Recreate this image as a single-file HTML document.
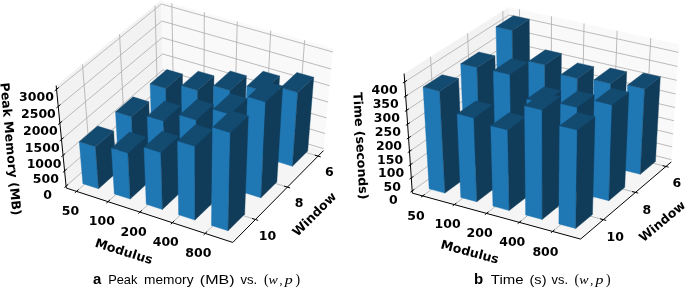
<!DOCTYPE html>
<html><head><meta charset="utf-8"><title>figure</title>
<style>
html,body{margin:0;padding:0;background:#fff;}
body{width:685px;height:289px;overflow:hidden;}
svg{display:block;}
svg text{font-family:"DejaVu Sans","Liberation Sans",sans-serif;fill:#000;}
svg .cap{font-family:"Liberation Sans","DejaVu Sans",sans-serif;font-weight:normal;font-style:normal;}
svg .capb{font-family:"Liberation Sans","DejaVu Sans",sans-serif;font-weight:bold;}
svg .math{font-family:"Liberation Serif","DejaVu Serif",serif;font-style:italic;font-weight:normal;}
svg .mathr{font-family:"Liberation Serif","DejaVu Serif",serif;font-weight:normal;}
</style></head><body>
<svg width="685" height="289" viewBox="0 0 685 289">
<rect width="685" height="289" fill="#fff"/>
<polygon points="66.28,188.04 163.70,102.51 161.31,0.30 56.17,85.59" fill="#f2f2f2" stroke="#f9f9f9" stroke-width="0.5"/>
<polygon points="163.70,102.51 323.50,150.62 333.07,48.18 161.31,0.30" fill="#f9f9f9" stroke="#fcfcfc" stroke-width="0.5"/>
<polygon points="66.28,188.04 232.77,242.45 323.50,150.62 163.70,102.51" fill="#f5f5f5" stroke="#fafafa" stroke-width="0.5"/>
<polyline points="318.06,156.13 157.84,107.66 155.02,5.40" fill="none" stroke="#b0b0b0" stroke-width="0.85"/>
<polyline points="287.42,187.13 124.91,136.56 119.56,34.16" fill="none" stroke="#b0b0b0" stroke-width="0.85"/>
<polyline points="255.43,219.52 90.57,166.71 82.47,64.25" fill="none" stroke="#b0b0b0" stroke-width="0.85"/>
<polyline points="76.51,191.38 173.54,105.48 171.87,3.24" fill="none" stroke="#b0b0b0" stroke-width="0.85"/>
<polyline points="108.00,201.67 203.82,114.59 204.35,12.29" fill="none" stroke="#b0b0b0" stroke-width="0.85"/>
<polyline points="139.94,212.11 234.49,123.83 237.29,21.48" fill="none" stroke="#b0b0b0" stroke-width="0.85"/>
<polyline points="172.34,222.70 265.58,133.18 270.71,30.79" fill="none" stroke="#b0b0b0" stroke-width="0.85"/>
<polyline points="205.20,233.44 297.08,142.67 304.62,40.25" fill="none" stroke="#b0b0b0" stroke-width="0.85"/>
<polyline points="66.09,186.13 163.65,100.61 323.68,148.71" fill="none" stroke="#b0b0b0" stroke-width="0.85"/>
<polyline points="64.59,170.93 163.30,85.38 325.10,133.49" fill="none" stroke="#b0b0b0" stroke-width="0.85"/>
<polyline points="63.05,155.37 162.93,69.82 326.56,117.92" fill="none" stroke="#b0b0b0" stroke-width="0.85"/>
<polyline points="61.48,139.45 162.56,53.92 328.05,101.99" fill="none" stroke="#b0b0b0" stroke-width="0.85"/>
<polyline points="59.88,123.15 162.18,37.66 329.57,85.69" fill="none" stroke="#b0b0b0" stroke-width="0.85"/>
<polyline points="58.23,106.45 161.80,21.04 331.13,69.01" fill="none" stroke="#b0b0b0" stroke-width="0.85"/>
<polyline points="56.54,89.35 161.40,4.04 332.72,51.94" fill="none" stroke="#b0b0b0" stroke-width="0.85"/>
<polygon points="151.42,123.10 166.67,127.77 165.82,88.52 150.14,83.85" fill="#1f77b4" stroke="#1f77b4" stroke-width="0.4" stroke-linejoin="round"/>
<polygon points="166.67,127.77 182.82,113.31 182.43,74.07 165.82,88.52" fill="#103c5a" stroke="#103c5a" stroke-width="0.4" stroke-linejoin="round"/>
<polygon points="166.86,69.50 150.14,83.85 165.82,88.52 182.43,74.07" fill="#134a70" stroke="#134a70" stroke-width="0.4" stroke-linejoin="round"/>
<polygon points="182.02,132.48 197.47,137.21 197.50,90.44 181.52,85.71" fill="#1f77b4" stroke="#1f77b4" stroke-width="0.4" stroke-linejoin="round"/>
<polygon points="197.47,137.21 213.41,122.55 213.97,75.80 197.50,90.44" fill="#103c5a" stroke="#103c5a" stroke-width="0.4" stroke-linejoin="round"/>
<polygon points="198.11,71.16 181.52,85.71 197.50,90.44 213.97,75.80" fill="#134a70" stroke="#134a70" stroke-width="0.4" stroke-linejoin="round"/>
<polygon points="213.03,141.98 228.69,146.78 230.02,90.53 213.71,85.73" fill="#1f77b4" stroke="#1f77b4" stroke-width="0.4" stroke-linejoin="round"/>
<polygon points="228.69,146.78 244.41,131.92 246.36,75.68 230.02,90.53" fill="#103c5a" stroke="#103c5a" stroke-width="0.4" stroke-linejoin="round"/>
<polygon points="230.17,70.98 213.71,85.73 230.02,90.53 246.36,75.68" fill="#134a70" stroke="#134a70" stroke-width="0.4" stroke-linejoin="round"/>
<polygon points="244.47,151.61 260.34,156.47 263.43,91.02 246.78,86.15" fill="#1f77b4" stroke="#1f77b4" stroke-width="0.4" stroke-linejoin="round"/>
<polygon points="260.34,156.47 275.83,141.41 279.62,75.96 263.43,91.02" fill="#103c5a" stroke="#103c5a" stroke-width="0.4" stroke-linejoin="round"/>
<polygon points="263.09,71.20 246.78,86.15 263.43,91.02 279.62,75.96" fill="#134a70" stroke="#134a70" stroke-width="0.4" stroke-linejoin="round"/>
<polygon points="276.33,161.37 292.43,166.31 297.70,92.54 280.70,87.60" fill="#1f77b4" stroke="#1f77b4" stroke-width="0.4" stroke-linejoin="round"/>
<polygon points="292.43,166.31 307.68,151.04 313.72,77.27 297.70,92.54" fill="#103c5a" stroke="#103c5a" stroke-width="0.4" stroke-linejoin="round"/>
<polygon points="296.85,72.45 280.70,87.60 297.70,92.54 313.72,77.27" fill="#134a70" stroke="#134a70" stroke-width="0.4" stroke-linejoin="round"/>
<polygon points="117.88,152.75 133.34,157.62 131.43,116.73 115.51,111.85" fill="#1f77b4" stroke="#1f77b4" stroke-width="0.4" stroke-linejoin="round"/>
<polygon points="133.34,157.62 150.18,142.54 148.79,101.64 131.43,116.73" fill="#103c5a" stroke="#103c5a" stroke-width="0.4" stroke-linejoin="round"/>
<polygon points="132.99,96.87 115.51,111.85 131.43,116.73 148.79,101.64" fill="#134a70" stroke="#134a70" stroke-width="0.4" stroke-linejoin="round"/>
<polygon points="148.91,162.53 164.58,167.47 163.47,121.11 147.26,116.17" fill="#1f77b4" stroke="#1f77b4" stroke-width="0.4" stroke-linejoin="round"/>
<polygon points="164.58,167.47 181.20,152.18 180.67,105.81 163.47,121.11" fill="#103c5a" stroke="#103c5a" stroke-width="0.4" stroke-linejoin="round"/>
<polygon points="164.58,100.97 147.26,116.17 163.47,121.11 180.67,105.81" fill="#134a70" stroke="#134a70" stroke-width="0.4" stroke-linejoin="round"/>
<polygon points="180.36,172.45 196.25,177.46 196.23,120.04 179.66,115.02" fill="#1f77b4" stroke="#1f77b4" stroke-width="0.4" stroke-linejoin="round"/>
<polygon points="196.25,177.46 212.64,161.95 213.33,104.51 196.23,120.04" fill="#103c5a" stroke="#103c5a" stroke-width="0.4" stroke-linejoin="round"/>
<polygon points="196.88,99.61 179.66,115.02 196.23,120.04 213.33,104.51" fill="#134a70" stroke="#134a70" stroke-width="0.4" stroke-linejoin="round"/>
<polygon points="212.25,182.50 228.36,187.58 230.13,114.25 213.12,109.16" fill="#1f77b4" stroke="#1f77b4" stroke-width="0.4" stroke-linejoin="round"/>
<polygon points="228.36,187.58 244.53,171.86 247.16,98.51 230.13,114.25" fill="#103c5a" stroke="#103c5a" stroke-width="0.4" stroke-linejoin="round"/>
<polygon points="230.28,93.53 213.12,109.16 230.13,114.25 247.16,98.51" fill="#134a70" stroke="#134a70" stroke-width="0.4" stroke-linejoin="round"/>
<polygon points="244.59,192.69 260.93,197.84 265.63,101.96 248.09,96.79" fill="#1f77b4" stroke="#1f77b4" stroke-width="0.4" stroke-linejoin="round"/>
<polygon points="260.93,197.84 276.85,181.90 282.65,85.98 265.63,101.96" fill="#103c5a" stroke="#103c5a" stroke-width="0.4" stroke-linejoin="round"/>
<polygon points="265.25,80.94 248.09,96.79 265.63,101.96 282.65,85.98" fill="#134a70" stroke="#134a70" stroke-width="0.4" stroke-linejoin="round"/>
<polygon points="82.88,183.69 98.56,188.78 95.44,146.76 79.28,141.66" fill="#1f77b4" stroke="#1f77b4" stroke-width="0.4" stroke-linejoin="round"/>
<polygon points="98.56,188.78 116.14,173.03 113.61,130.98 95.44,146.76" fill="#103c5a" stroke="#103c5a" stroke-width="0.4" stroke-linejoin="round"/>
<polygon points="97.56,126.00 79.28,141.66 95.44,146.76 113.61,130.98" fill="#134a70" stroke="#134a70" stroke-width="0.4" stroke-linejoin="round"/>
<polygon points="114.34,193.90 130.24,199.06 127.91,153.06 111.46,147.89" fill="#1f77b4" stroke="#1f77b4" stroke-width="0.4" stroke-linejoin="round"/>
<polygon points="130.24,199.06 147.59,183.10 145.89,137.05 127.91,153.06" fill="#103c5a" stroke="#103c5a" stroke-width="0.4" stroke-linejoin="round"/>
<polygon points="129.57,132.00 111.46,147.89 127.91,153.06 145.89,137.05" fill="#134a70" stroke="#134a70" stroke-width="0.4" stroke-linejoin="round"/>
<polygon points="146.24,204.26 162.36,209.49 160.86,152.56 144.05,147.31" fill="#1f77b4" stroke="#1f77b4" stroke-width="0.4" stroke-linejoin="round"/>
<polygon points="162.36,209.49 179.49,193.30 178.75,136.31 160.86,152.56" fill="#103c5a" stroke="#103c5a" stroke-width="0.4" stroke-linejoin="round"/>
<polygon points="162.06,131.18 144.05,147.31 160.86,152.56 178.75,136.31" fill="#134a70" stroke="#134a70" stroke-width="0.4" stroke-linejoin="round"/>
<polygon points="178.60,214.76 194.95,220.07 194.86,146.25 177.57,140.92" fill="#1f77b4" stroke="#1f77b4" stroke-width="0.4" stroke-linejoin="round"/>
<polygon points="194.95,220.07 211.84,203.65 212.70,129.76 194.86,146.25" fill="#103c5a" stroke="#103c5a" stroke-width="0.4" stroke-linejoin="round"/>
<polygon points="195.55,124.55 177.57,140.92 194.86,146.25 212.70,129.76" fill="#134a70" stroke="#134a70" stroke-width="0.4" stroke-linejoin="round"/>
<polygon points="211.42,225.42 228.01,230.80 230.42,132.64 212.56,127.22" fill="#1f77b4" stroke="#1f77b4" stroke-width="0.4" stroke-linejoin="round"/>
<polygon points="228.01,230.80 244.65,214.14 248.30,115.89 230.42,132.64" fill="#103c5a" stroke="#103c5a" stroke-width="0.4" stroke-linejoin="round"/>
<polygon points="230.58,110.60 212.56,127.22 230.42,132.64 248.30,115.89" fill="#134a70" stroke="#134a70" stroke-width="0.4" stroke-linejoin="round"/>
<polyline points="66.28,188.04 56.17,85.59" fill="none" stroke="#000" stroke-width="1"/>
<polyline points="66.28,188.04 232.77,242.45" fill="none" stroke="#000" stroke-width="1"/>
<polyline points="232.77,242.45 323.50,150.62" fill="none" stroke="#000" stroke-width="1"/>
<polyline points="320.71,156.94 314.74,155.13" fill="none" stroke="#000" stroke-width="1"/>
<polyline points="290.12,187.97 284.06,186.09" fill="none" stroke="#000" stroke-width="1"/>
<polyline points="258.17,220.39 252.01,218.42" fill="none" stroke="#000" stroke-width="1"/>
<polyline points="74.86,192.84 78.57,189.56" fill="none" stroke="#000" stroke-width="1"/>
<polyline points="106.37,203.16 110.04,199.82" fill="none" stroke="#000" stroke-width="1"/>
<polyline points="138.33,213.61 141.95,210.24" fill="none" stroke="#000" stroke-width="1"/>
<polyline points="170.75,224.22 174.32,220.80" fill="none" stroke="#000" stroke-width="1"/>
<polyline points="203.63,234.98 207.15,231.51" fill="none" stroke="#000" stroke-width="1"/>
<polyline points="64.43,187.59 68.16,184.32" fill="none" stroke="#000" stroke-width="1"/>
<polyline points="62.91,172.38 66.68,169.11" fill="none" stroke="#000" stroke-width="1"/>
<polyline points="61.35,156.83 65.18,153.55" fill="none" stroke="#000" stroke-width="1"/>
<polyline points="59.76,140.91 63.63,137.63" fill="none" stroke="#000" stroke-width="1"/>
<polyline points="58.13,124.60 62.05,121.33" fill="none" stroke="#000" stroke-width="1"/>
<polyline points="56.46,107.91 60.43,104.63" fill="none" stroke="#000" stroke-width="1"/>
<polyline points="54.75,90.81 58.78,87.53" fill="none" stroke="#000" stroke-width="1"/>
<polygon points="412.35,193.15 510.97,122.11 509.06,6.98 404.12,73.56" fill="#f2f2f2" stroke="#f9f9f9" stroke-width="0.5"/>
<polygon points="510.97,122.11 671.33,161.90 679.05,44.20 509.06,6.98" fill="#f9f9f9" stroke="#fcfcfc" stroke-width="0.5"/>
<polygon points="412.35,193.15 580.57,239.09 671.33,161.90 510.97,122.11" fill="#f5f5f5" stroke="#fafafa" stroke-width="0.5"/>
<polyline points="665.93,166.49 505.09,126.34 502.84,10.93" fill="none" stroke="#b0b0b0" stroke-width="0.85"/>
<polyline points="635.47,192.40 471.94,150.23 467.63,33.26" fill="none" stroke="#b0b0b0" stroke-width="0.85"/>
<polyline points="603.42,219.66 437.12,175.31 430.56,56.78" fill="none" stroke="#b0b0b0" stroke-width="0.85"/>
<polyline points="422.63,195.96 520.80,124.55 519.46,9.26" fill="none" stroke="#b0b0b0" stroke-width="0.85"/>
<polyline points="454.31,204.61 551.06,132.06 551.48,16.27" fill="none" stroke="#b0b0b0" stroke-width="0.85"/>
<polyline points="486.52,213.41 581.79,139.68 584.04,23.40" fill="none" stroke="#b0b0b0" stroke-width="0.85"/>
<polyline points="519.26,222.35 613.00,147.43 617.13,30.64" fill="none" stroke="#b0b0b0" stroke-width="0.85"/>
<polyline points="552.56,231.44 644.69,155.29 650.77,38.01" fill="none" stroke="#b0b0b0" stroke-width="0.85"/>
<polyline points="412.19,190.90 510.93,119.93 671.47,159.68" fill="none" stroke="#b0b0b0" stroke-width="0.85"/>
<polyline points="411.30,177.92 510.73,107.39 672.31,146.88" fill="none" stroke="#b0b0b0" stroke-width="0.85"/>
<polyline points="410.39,164.76 510.52,94.69 673.16,133.92" fill="none" stroke="#b0b0b0" stroke-width="0.85"/>
<polyline points="409.48,151.42 510.30,81.83 674.03,120.78" fill="none" stroke="#b0b0b0" stroke-width="0.85"/>
<polyline points="408.55,137.90 510.09,68.80 674.90,107.47" fill="none" stroke="#b0b0b0" stroke-width="0.85"/>
<polyline points="407.60,124.19 509.87,55.60 675.79,93.97" fill="none" stroke="#b0b0b0" stroke-width="0.85"/>
<polyline points="406.65,110.28 509.65,42.23 676.68,80.30" fill="none" stroke="#b0b0b0" stroke-width="0.85"/>
<polyline points="405.68,96.18 509.42,28.68 677.59,66.43" fill="none" stroke="#b0b0b0" stroke-width="0.85"/>
<polyline points="404.69,81.88 509.19,14.96 678.52,52.37" fill="none" stroke="#b0b0b0" stroke-width="0.85"/>
<polygon points="498.60,138.46 513.85,142.32 512.14,30.39 496.03,26.77" fill="#1f77b4" stroke="#1f77b4" stroke-width="0.4" stroke-linejoin="round"/>
<polygon points="513.85,142.32 530.05,130.38 529.28,19.20 512.14,30.39" fill="#103c5a" stroke="#103c5a" stroke-width="0.4" stroke-linejoin="round"/>
<polygon points="513.30,15.67 496.03,26.77 512.14,30.39 529.28,19.20" fill="#134a70" stroke="#134a70" stroke-width="0.4" stroke-linejoin="round"/>
<polygon points="529.22,146.21 544.72,150.13 544.75,65.06 528.59,61.31" fill="#1f77b4" stroke="#1f77b4" stroke-width="0.4" stroke-linejoin="round"/>
<polygon points="544.72,150.13 560.67,138.01 561.39,53.48 544.75,65.06" fill="#103c5a" stroke="#103c5a" stroke-width="0.4" stroke-linejoin="round"/>
<polygon points="545.37,49.83 528.59,61.31 544.75,65.06 561.39,53.48" fill="#134a70" stroke="#134a70" stroke-width="0.4" stroke-linejoin="round"/>
<polygon points="560.33,154.09 576.07,158.07 577.39,78.44 561.00,74.62" fill="#1f77b4" stroke="#1f77b4" stroke-width="0.4" stroke-linejoin="round"/>
<polygon points="576.07,158.07 591.76,145.75 593.70,66.63 577.39,78.44" fill="#103c5a" stroke="#103c5a" stroke-width="0.4" stroke-linejoin="round"/>
<polygon points="577.46,62.91 561.00,74.62 577.39,78.44 593.70,66.63" fill="#134a70" stroke="#134a70" stroke-width="0.4" stroke-linejoin="round"/>
<polygon points="591.93,162.09 607.92,166.13 610.65,83.73 593.97,79.85" fill="#1f77b4" stroke="#1f77b4" stroke-width="0.4" stroke-linejoin="round"/>
<polygon points="607.92,166.13 623.35,153.62 626.69,71.75 610.65,83.73" fill="#103c5a" stroke="#103c5a" stroke-width="0.4" stroke-linejoin="round"/>
<polygon points="610.16,67.97 593.97,79.85 610.65,83.73 626.69,71.75" fill="#134a70" stroke="#134a70" stroke-width="0.4" stroke-linejoin="round"/>
<polygon points="624.04,170.21 640.28,174.32 644.55,89.01 627.57,85.07" fill="#1f77b4" stroke="#1f77b4" stroke-width="0.4" stroke-linejoin="round"/>
<polygon points="640.28,174.32 655.43,161.61 660.31,76.84 644.55,89.01" fill="#103c5a" stroke="#103c5a" stroke-width="0.4" stroke-linejoin="round"/>
<polygon points="643.48,73.00 627.57,85.07 644.55,89.01 660.31,76.84" fill="#134a70" stroke="#134a70" stroke-width="0.4" stroke-linejoin="round"/>
<polygon points="464.74,163.03 480.24,167.09 476.98,67.62 460.70,63.77" fill="#1f77b4" stroke="#1f77b4" stroke-width="0.4" stroke-linejoin="round"/>
<polygon points="480.24,167.09 497.25,154.55 494.89,55.73 476.98,67.62" fill="#103c5a" stroke="#103c5a" stroke-width="0.4" stroke-linejoin="round"/>
<polygon points="478.75,51.98 460.70,63.77 476.98,67.62 494.89,55.73" fill="#134a70" stroke="#134a70" stroke-width="0.4" stroke-linejoin="round"/>
<polygon points="495.86,171.18 511.61,175.30 509.93,74.57 493.37,70.66" fill="#1f77b4" stroke="#1f77b4" stroke-width="0.4" stroke-linejoin="round"/>
<polygon points="511.61,175.30 528.37,162.56 527.57,62.49 509.93,74.57" fill="#103c5a" stroke="#103c5a" stroke-width="0.4" stroke-linejoin="round"/>
<polygon points="511.15,58.68 493.37,70.66 509.93,74.57 527.57,62.49" fill="#134a70" stroke="#134a70" stroke-width="0.4" stroke-linejoin="round"/>
<polygon points="527.48,179.45 543.48,183.64 543.47,103.10 526.80,99.07" fill="#1f77b4" stroke="#1f77b4" stroke-width="0.4" stroke-linejoin="round"/>
<polygon points="543.48,183.64 559.98,170.69 560.65,90.67 543.47,103.10" fill="#103c5a" stroke="#103c5a" stroke-width="0.4" stroke-linejoin="round"/>
<polygon points="544.12,86.75 526.80,99.07 543.47,103.10 560.65,90.67" fill="#134a70" stroke="#134a70" stroke-width="0.4" stroke-linejoin="round"/>
<polygon points="559.62,187.86 575.88,192.11 577.30,107.47 560.32,103.39" fill="#1f77b4" stroke="#1f77b4" stroke-width="0.4" stroke-linejoin="round"/>
<polygon points="575.88,192.11 592.10,178.96 594.21,94.85 577.30,107.47" fill="#103c5a" stroke="#103c5a" stroke-width="0.4" stroke-linejoin="round"/>
<polygon points="577.38,90.88 560.32,103.39 577.30,107.47 594.21,94.85" fill="#134a70" stroke="#134a70" stroke-width="0.4" stroke-linejoin="round"/>
<polygon points="592.28,196.40 608.81,200.73 612.09,104.88 594.71,100.75" fill="#1f77b4" stroke="#1f77b4" stroke-width="0.4" stroke-linejoin="round"/>
<polygon points="608.81,200.73 624.75,187.36 628.77,92.13 612.09,104.88" fill="#103c5a" stroke="#103c5a" stroke-width="0.4" stroke-linejoin="round"/>
<polygon points="611.55,88.10 594.71,100.75 612.09,104.88 628.77,92.13" fill="#134a70" stroke="#134a70" stroke-width="0.4" stroke-linejoin="round"/>
<polygon points="429.17,188.86 444.91,193.12 439.64,91.15 423.08,87.09" fill="#1f77b4" stroke="#1f77b4" stroke-width="0.4" stroke-linejoin="round"/>
<polygon points="444.91,193.12 462.80,179.94 458.53,78.62 439.64,91.15" fill="#103c5a" stroke="#103c5a" stroke-width="0.4" stroke-linejoin="round"/>
<polygon points="442.11,74.68 423.08,87.09 439.64,91.15 458.53,78.62" fill="#134a70" stroke="#134a70" stroke-width="0.4" stroke-linejoin="round"/>
<polygon points="460.79,197.42 476.80,201.75 473.84,117.91 457.15,113.75" fill="#1f77b4" stroke="#1f77b4" stroke-width="0.4" stroke-linejoin="round"/>
<polygon points="476.80,201.75 494.42,188.36 492.28,105.05 473.84,117.91" fill="#103c5a" stroke="#103c5a" stroke-width="0.4" stroke-linejoin="round"/>
<polygon points="475.72,100.99 457.15,113.75 473.84,117.91 492.28,105.05" fill="#134a70" stroke="#134a70" stroke-width="0.4" stroke-linejoin="round"/>
<polygon points="492.94,206.12 509.21,210.53 507.74,129.92 490.78,125.67" fill="#1f77b4" stroke="#1f77b4" stroke-width="0.4" stroke-linejoin="round"/>
<polygon points="509.21,210.53 526.57,196.91 525.84,116.80 507.74,129.92" fill="#103c5a" stroke="#103c5a" stroke-width="0.4" stroke-linejoin="round"/>
<polygon points="509.03,112.67 490.78,125.67 507.74,129.92 525.84,116.80" fill="#134a70" stroke="#134a70" stroke-width="0.4" stroke-linejoin="round"/>
<polygon points="525.62,214.97 542.17,219.45 542.07,109.98 524.57,105.72" fill="#1f77b4" stroke="#1f77b4" stroke-width="0.4" stroke-linejoin="round"/>
<polygon points="542.17,219.45 559.24,205.61 560.13,96.83 542.07,109.98" fill="#103c5a" stroke="#103c5a" stroke-width="0.4" stroke-linejoin="round"/>
<polygon points="542.78,92.69 524.57,105.72 542.07,109.98 560.13,96.83" fill="#134a70" stroke="#134a70" stroke-width="0.4" stroke-linejoin="round"/>
<polygon points="558.86,223.97 575.69,228.53 577.36,130.12 559.64,125.77" fill="#1f77b4" stroke="#1f77b4" stroke-width="0.4" stroke-linejoin="round"/>
<polygon points="575.69,228.53 592.47,214.45 594.98,116.66 577.36,130.12" fill="#103c5a" stroke="#103c5a" stroke-width="0.4" stroke-linejoin="round"/>
<polygon points="577.43,112.42 559.64,125.77 577.36,130.12 594.98,116.66" fill="#134a70" stroke="#134a70" stroke-width="0.4" stroke-linejoin="round"/>
<polyline points="412.35,193.15 404.12,73.56" fill="none" stroke="#000" stroke-width="1"/>
<polyline points="412.35,193.15 580.57,239.09" fill="none" stroke="#000" stroke-width="1"/>
<polyline points="580.57,239.09 671.33,161.90" fill="none" stroke="#000" stroke-width="1"/>
<polyline points="668.61,167.16 662.59,165.65" fill="none" stroke="#000" stroke-width="1"/>
<polyline points="638.20,193.10 632.06,191.52" fill="none" stroke="#000" stroke-width="1"/>
<polyline points="606.19,220.40 599.95,218.74" fill="none" stroke="#000" stroke-width="1"/>
<polyline points="420.94,197.19 424.73,194.43" fill="none" stroke="#000" stroke-width="1"/>
<polyline points="452.65,205.86 456.38,203.06" fill="none" stroke="#000" stroke-width="1"/>
<polyline points="484.88,214.68 488.56,211.83" fill="none" stroke="#000" stroke-width="1"/>
<polyline points="517.65,223.64 521.27,220.74" fill="none" stroke="#000" stroke-width="1"/>
<polyline points="550.98,232.76 554.54,229.81" fill="none" stroke="#000" stroke-width="1"/>
<polyline points="410.50,192.12 414.31,189.38" fill="none" stroke="#000" stroke-width="1"/>
<polyline points="409.59,179.13 413.43,176.41" fill="none" stroke="#000" stroke-width="1"/>
<polyline points="408.67,165.97 412.54,163.26" fill="none" stroke="#000" stroke-width="1"/>
<polyline points="407.74,152.62 411.64,149.93" fill="none" stroke="#000" stroke-width="1"/>
<polyline points="406.80,139.09 410.73,136.42" fill="none" stroke="#000" stroke-width="1"/>
<polyline points="405.84,125.37 409.80,122.71" fill="none" stroke="#000" stroke-width="1"/>
<polyline points="404.87,111.45 408.86,108.82" fill="none" stroke="#000" stroke-width="1"/>
<polyline points="403.89,97.34 407.91,94.73" fill="none" stroke="#000" stroke-width="1"/>
<polyline points="402.89,83.03 406.94,80.44" fill="none" stroke="#000" stroke-width="1"/>
<text x="47.58" y="194.29" dy="0.365em" font-size="12.50" font-weight="bold" text-anchor="middle">0</text>
<text x="45.83" y="178.92" dy="0.365em" font-size="12.50" font-weight="bold" text-anchor="middle">500</text>
<text x="44.05" y="163.18" dy="0.365em" font-size="12.50" font-weight="bold" text-anchor="middle">1000</text>
<text x="42.22" y="147.06" dy="0.365em" font-size="12.50" font-weight="bold" text-anchor="middle">1500</text>
<text x="40.35" y="130.55" dy="0.365em" font-size="12.50" font-weight="bold" text-anchor="middle">2000</text>
<text x="38.44" y="113.64" dy="0.365em" font-size="12.50" font-weight="bold" text-anchor="middle">2500</text>
<text x="36.47" y="96.30" dy="0.365em" font-size="12.50" font-weight="bold" text-anchor="middle">3000</text>
<text x="70.55" y="210.29" dy="0.365em" font-size="12.50" font-weight="bold" text-anchor="middle">50</text>
<text x="101.84" y="220.66" dy="0.365em" font-size="12.50" font-weight="bold" text-anchor="middle">100</text>
<text x="133.56" y="231.18" dy="0.365em" font-size="12.50" font-weight="bold" text-anchor="middle">200</text>
<text x="165.74" y="241.84" dy="0.365em" font-size="12.50" font-weight="bold" text-anchor="middle">400</text>
<text x="198.37" y="252.66" dy="0.365em" font-size="12.50" font-weight="bold" text-anchor="middle">800</text>
<text x="329.23" y="171.74" dy="0.365em" font-size="12.50" font-weight="bold" text-anchor="middle">6</text>
<text x="299.04" y="202.88" dy="0.365em" font-size="12.50" font-weight="bold" text-anchor="middle">8</text>
<text x="267.51" y="235.40" dy="0.365em" font-size="12.50" font-weight="bold" text-anchor="middle">10</text>
<text x="393.24" y="199.05" dy="0.365em" font-size="12.50" font-weight="bold" text-anchor="middle">0</text>
<text x="392.21" y="185.95" dy="0.365em" font-size="12.50" font-weight="bold" text-anchor="middle">50</text>
<text x="391.16" y="172.67" dy="0.365em" font-size="12.50" font-weight="bold" text-anchor="middle">100</text>
<text x="390.09" y="159.21" dy="0.365em" font-size="12.50" font-weight="bold" text-anchor="middle">150</text>
<text x="389.01" y="145.56" dy="0.365em" font-size="12.50" font-weight="bold" text-anchor="middle">200</text>
<text x="387.92" y="131.71" dy="0.365em" font-size="12.50" font-weight="bold" text-anchor="middle">250</text>
<text x="386.81" y="117.67" dy="0.365em" font-size="12.50" font-weight="bold" text-anchor="middle">300</text>
<text x="385.68" y="103.43" dy="0.365em" font-size="12.50" font-weight="bold" text-anchor="middle">350</text>
<text x="384.54" y="88.98" dy="0.365em" font-size="12.50" font-weight="bold" text-anchor="middle">400</text>
<text x="415.99" y="215.07" dy="0.365em" font-size="12.50" font-weight="bold" text-anchor="middle">50</text>
<text x="447.55" y="223.86" dy="0.365em" font-size="12.50" font-weight="bold" text-anchor="middle">100</text>
<text x="479.64" y="232.80" dy="0.365em" font-size="12.50" font-weight="bold" text-anchor="middle">200</text>
<text x="512.26" y="241.89" dy="0.365em" font-size="12.50" font-weight="bold" text-anchor="middle">400</text>
<text x="545.43" y="251.13" dy="0.365em" font-size="12.50" font-weight="bold" text-anchor="middle">800</text>
<text x="676.89" y="182.86" dy="0.365em" font-size="12.50" font-weight="bold" text-anchor="middle">6</text>
<text x="646.82" y="209.08" dy="0.365em" font-size="12.50" font-weight="bold" text-anchor="middle">8</text>
<text x="615.20" y="236.66" dy="0.365em" font-size="12.50" font-weight="bold" text-anchor="middle">10</text>
<text x="11.00" y="149.00" dy="0.365em" font-size="12.50" font-weight="bold" text-anchor="middle" transform="rotate(84.70 11.00 149.00)">Peak Memory (MB)</text>
<text x="124.00" y="251.00" dy="0.365em" font-size="12.50" font-weight="bold" text-anchor="middle" transform="rotate(17.50 124.00 251.00)">Modulus</text>
<text x="314.00" y="214.00" dy="0.365em" font-size="12.50" font-weight="bold" text-anchor="middle" transform="rotate(-45.00 314.00 214.00)">Window</text>
<text x="361.00" y="145.80" dy="0.365em" font-size="12.50" font-weight="bold" text-anchor="middle" transform="rotate(86.70 361.00 145.80)">Time (seconds)</text>
<text x="470.00" y="251.60" dy="0.365em" font-size="12.50" font-weight="bold" text-anchor="middle" transform="rotate(15.00 470.00 251.60)">Modulus</text>
<text x="662.00" y="221.00" dy="0.365em" font-size="12.50" font-weight="bold" text-anchor="middle" transform="rotate(-40.00 662.00 221.00)">Window</text>
<text y="284.3" class="cap"><tspan x="93.0" font-size="15.5" class="capb" textLength="8.3" lengthAdjust="spacingAndGlyphs">a</tspan> <tspan x="108.2" font-size="12.2" class="cap" textLength="29.2" lengthAdjust="spacingAndGlyphs">Peak</tspan> <tspan x="144.0" font-size="12.2" class="cap" textLength="49.5" lengthAdjust="spacingAndGlyphs">memory</tspan> <tspan x="199.8" font-size="12.2" class="cap" textLength="34.7" lengthAdjust="spacingAndGlyphs">(MB)</tspan> <tspan x="240.5" font-size="12.2" class="cap" textLength="16.7" lengthAdjust="spacingAndGlyphs">vs.</tspan> <tspan x="264.0" font-size="15.0" class="mathr" textLength="4.6" lengthAdjust="spacingAndGlyphs">(</tspan><tspan x="268.6" font-size="13.5" class="math" textLength="9.3" lengthAdjust="spacingAndGlyphs">w</tspan><tspan x="279.6" font-size="13.5" class="mathr" textLength="3.0" lengthAdjust="spacingAndGlyphs">,</tspan> <tspan x="284.8" font-size="13.5" class="math" textLength="8.0" lengthAdjust="spacingAndGlyphs">p</tspan><tspan x="295.4" font-size="15.0" class="mathr" textLength="4.6" lengthAdjust="spacingAndGlyphs">)</tspan></text>
<text y="284.3" class="cap"><tspan x="474.0" font-size="15.5" class="capb" textLength="9.2" lengthAdjust="spacingAndGlyphs">b</tspan> <tspan x="490.8" font-size="12.2" class="cap" textLength="32.7" lengthAdjust="spacingAndGlyphs">Time</tspan> <tspan x="529.5" font-size="12.2" class="cap" textLength="17.0" lengthAdjust="spacingAndGlyphs">(s)</tspan> <tspan x="551.6" font-size="12.2" class="cap" textLength="16.4" lengthAdjust="spacingAndGlyphs">vs.</tspan> <tspan x="574.6" font-size="15.0" class="mathr" textLength="4.6" lengthAdjust="spacingAndGlyphs">(</tspan><tspan x="579.2" font-size="13.5" class="math" textLength="9.3" lengthAdjust="spacingAndGlyphs">w</tspan><tspan x="590.2" font-size="13.5" class="mathr" textLength="3.0" lengthAdjust="spacingAndGlyphs">,</tspan> <tspan x="595.4" font-size="13.5" class="math" textLength="8.0" lengthAdjust="spacingAndGlyphs">p</tspan><tspan x="606.0" font-size="15.0" class="mathr" textLength="4.6" lengthAdjust="spacingAndGlyphs">)</tspan></text>
</svg>
</body></html>
